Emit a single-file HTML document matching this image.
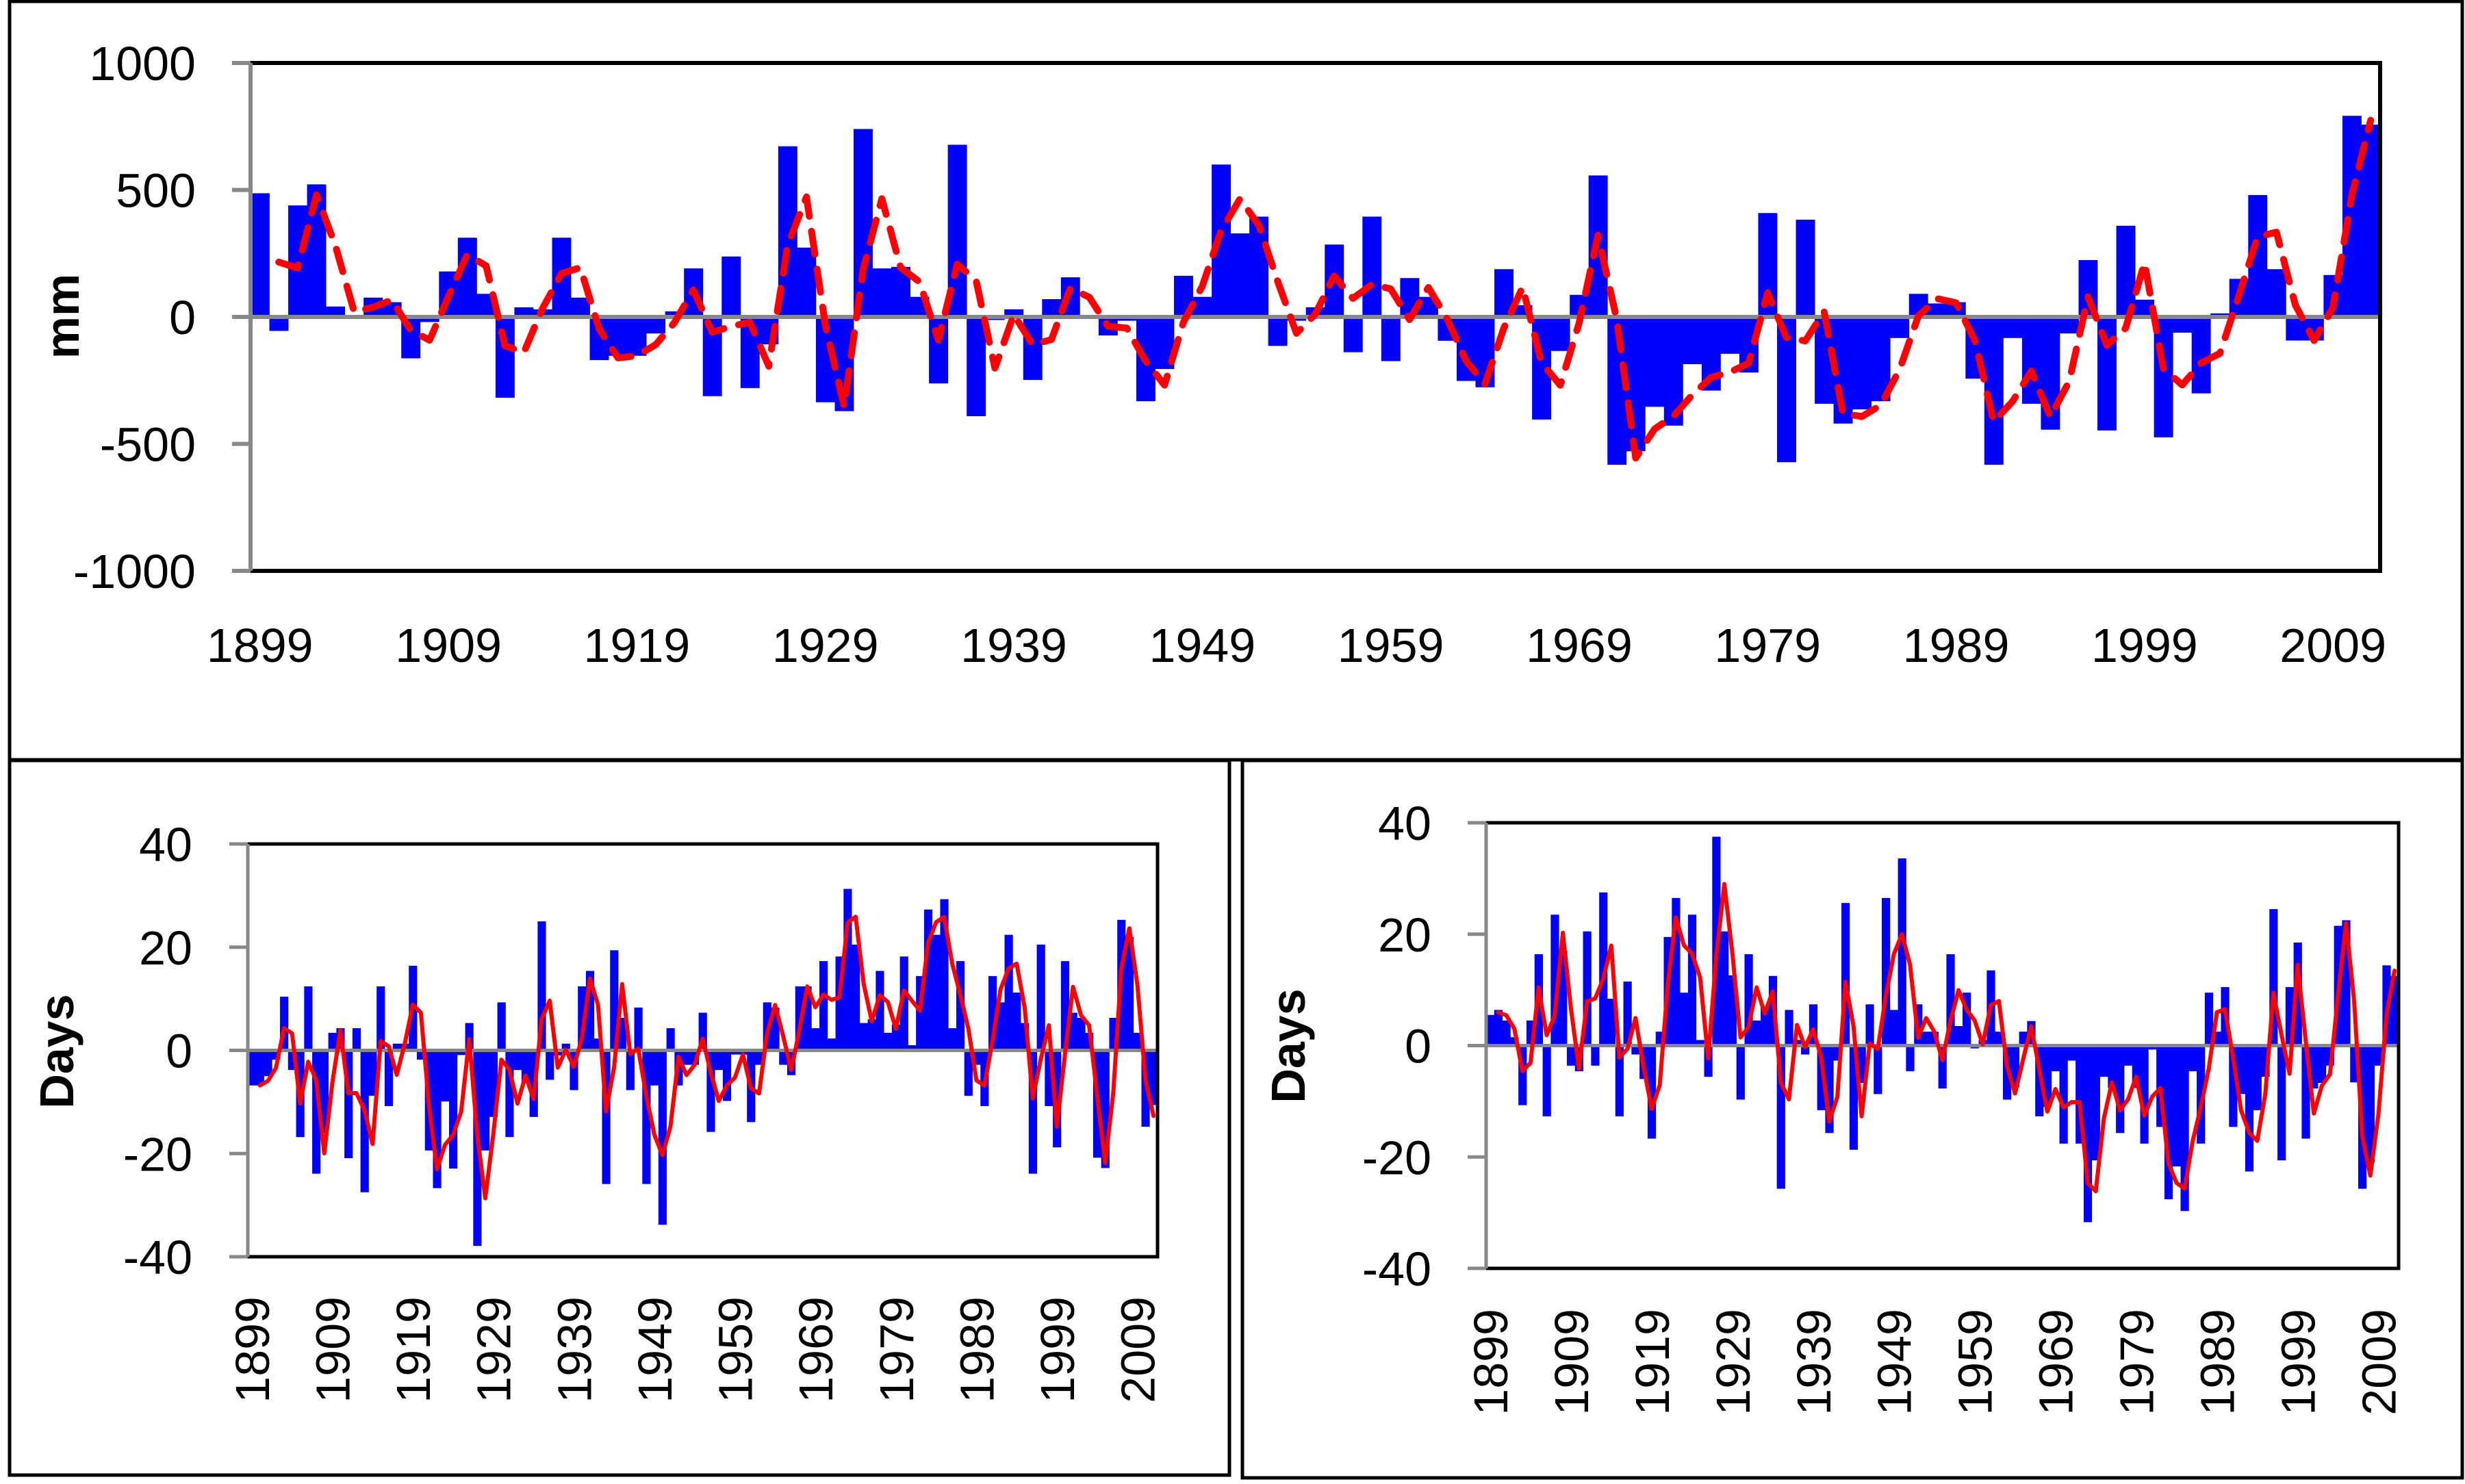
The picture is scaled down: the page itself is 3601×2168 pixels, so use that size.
<!DOCTYPE html>
<html>
<head>
<meta charset="utf-8">
<style>
html,body{margin:0;padding:0;background:#fff;}
svg{display:block;}
text{font-family:"Liberation Sans",Arial,sans-serif;fill:#000;}
</style>
</head>
<body>
<svg id="fig" width="3601" height="2168" viewBox="0 0 3601 2168" xmlns="http://www.w3.org/2000/svg">
  <rect x="0" y="0" width="3601" height="2168" fill="#fff"/>
  <g fill="none" stroke="#000" stroke-width="5">
    <rect x="14" y="2" width="3583" height="1108"/>
    <rect x="14" y="1111" width="1782" height="1044"/>
    <rect x="1815" y="1111" width="1782" height="1048"/>
  </g>
  <g id="chart-top"></g>
  <g id="chart-left"></g>
  <g id="chart-right"></g>
</svg>
<script>
const startYear = 1899;
const topTicks = [1000, 500, 0, -500, -1000];
const dayTicks = [40, 20, 0, -20, -40];
const yearLabels = [1899, 1909, 1919, 1929, 1939, 1949, 1959, 1969, 1979, 1989, 1999, 2009];
const topValues = [487,-55,439,522,41,0,76,58,-163,-20,179,312,91,-318,38,30,312,76,-170,-153,-153,-65,22,191,-312,238,-280,-108,672,273,-336,-371,740,191,197,79,-262,678,-391,-12,30,-248,70,156,0,-73,-15,-332,-205,162,79,600,329,395,-114,-15,38,285,-139,395,-174,153,79,-94,-252,-277,188,46,-404,-134,87,557,-582,-529,-354,-428,-186,-290,-145,-219,409,-572,383,-342,-420,-364,-332,-83,91,53,58,-243,-582,-83,-342,-444,-65,224,-447,359,68,-474,-62,-301,14,150,480,188,-93,-93,165,792,757];
const leftValues = [-6.8,-6.8,-5,-1.8,10.4,-3.8,-16.8,12.4,-23.9,-16,3.4,4.3,-20.9,4.3,-27.5,-8.8,12.4,-10.8,1.3,1.3,16.4,-1.8,-19.4,-26.7,-9.9,-22.9,-0.9,5.3,-37.9,-19.4,-12.9,9.3,-16.8,-3.8,-6,-12.9,25,-5.7,-1,1.3,-7.7,12.4,15.4,2.3,-25.9,19.4,6.3,-7.7,8.3,-25.9,-6.8,-33.8,4.3,-6.8,-2.8,-2.8,7.3,-15.8,-3.8,-9.8,-0.8,-0.8,-13.9,-2.8,9.3,8.3,-2.8,-4.8,12.4,12.4,4.3,17.3,2.3,18.2,31.3,20.5,5.3,6,15.4,3.4,5,18.2,1,14.4,27.3,22.4,29.3,4.3,17.3,-8.8,-2.8,-10.8,14.4,9.3,22.4,11.2,5.3,-23.9,20.5,-10.8,-18.8,17.3,7.3,6.3,3.4,-20.8,-22.8,6.3,25.3,22,3.4,-14.8,-10.6];
const rightValues = [5.5,6.4,4.5,1.5,-10.7,4.5,16.4,-12.7,23.5,17,-3.6,-4.6,20.5,-3.6,27.5,8.4,-12.7,11.5,-1.6,-6,-16.7,2.5,19.5,26.5,9.5,23.5,1,-5.6,37.5,20.5,12.6,-9.7,16.4,4.5,7,12.5,-25.7,6.4,1,-1.6,7.4,-11.6,-15.7,-2.7,25.6,-18.7,-6.7,7.4,-8.7,26.5,6.4,33.6,-4.6,7.4,2.5,2.5,-7.7,16.4,3.5,9.5,-0.5,1,13.5,2.5,-9.7,-7.5,2.5,4.4,-12.7,-11,-4.6,-17.6,-2.7,-17.6,-31.7,-20.6,-5.6,-7.6,-15.7,-3.6,-7.6,-17.6,-0.7,-14.6,-27.6,-21.7,-29.7,-4.6,-17.6,9.5,2.5,10.5,-14.6,-8.7,-22.6,-11.6,-5.6,24.5,-20.6,10.5,18.5,-16.7,-7.7,-6.7,-3.6,21.5,22.5,-6.6,-25.7,-21,-3.6,14.4,12.5];

const NS = "http://www.w3.org/2000/svg";
function mk(tag, attrs, parent) {
  const e = document.createElementNS(NS, tag);
  for (const k in attrs) e.setAttribute(k, attrs[k]);
  parent.appendChild(e);
  return e;
}

function drawChart(g, cfg) {
  const n = cfg.values.length;
  const step = (cfg.R - cfg.L) / n;
  const y = v => cfg.T + (cfg.max - v) / (cfg.max - cfg.min) * (cfg.B - cfg.T);
  const xc = i => cfg.L + step * (i + 0.5);
  // bars
  cfg.values.forEach((v, i) => {
    const y0 = y(0), y1 = y(v);
    const r = mk('rect', {x: (cfg.L + step * i).toFixed(2), y: Math.min(y0, y1).toFixed(2), width: (step + 0.4).toFixed(2), height: Math.max(0.5, Math.abs(y1 - y0)).toFixed(2), fill: '#0000FF'}, g);
    
    
  });
  // zero line
  const z = mk('line', {x1: cfg.L - cfg.tickLen, x2: cfg.R, y1: y(0), y2: y(0), stroke: '#888888', 'stroke-width': cfg.axisW}, g);
  
  
  // frame top/right/bottom
  const fr = mk('path', {d: `M${cfg.L} ${cfg.T} H${cfg.R} V${cfg.B} H${cfg.L}`, fill: 'none', stroke: '#000', 'stroke-width': cfg.frameW}, g);
  
  
  // y axis
  const ax = mk('line', {x1: cfg.L, x2: cfg.L, y1: cfg.T, y2: cfg.B, stroke: '#888888', 'stroke-width': cfg.axisW}, g);
  
  
  cfg.ticks.forEach(t => {
    const tl = mk('line', {x1: cfg.L - cfg.tickLen, x2: cfg.L, y1: y(t), y2: y(t), stroke: '#888888', 'stroke-width': cfg.axisW}, g);
    
    
    const tx = mk('text', {x: cfg.labelRight, y: y(t) + 25, 'text-anchor': 'end', 'font-size': 70}, g);
    tx.textContent = String(t);
    
    
  });
  // moving average (2-yr)
  let d = '';
  for (let i = 1; i < n; i++) {
    const m = (cfg.values[i] + cfg.values[i - 1]) / 2;
    d += (i === 1 ? 'M' : 'L') + xc(i).toFixed(2) + ' ' + y(m).toFixed(2);
  }
  const ma = mk('path', {d: d, fill: 'none', stroke: '#FF0000', 'stroke-width': cfg.lineW, 'stroke-linejoin': 'round', 'stroke-linecap': 'round'}, g);
  if (cfg.dash) ma.setAttribute('stroke-dasharray', cfg.dash);
  
  
  // x labels
  yearLabels.forEach(yr => {
    const i = yr - startYear;
    let t;
    if (cfg.rotate) {
      const cx = xc(i) + 25, cy = cfg.xLabelY;
      t = mk('text', {x: cx, y: cy, 'text-anchor': 'end', 'font-size': 70, transform: `rotate(-90 ${cx} ${cy})`}, g);
    } else {
      t = mk('text', {x: xc(i), y: cfg.xLabelY, 'text-anchor': 'middle', 'font-size': 70}, g);
    }
    t.textContent = String(yr);
    
    
  });
  // axis title
  const at = mk('text', {x: cfg.titleX, y: cfg.titleY + 25, 'text-anchor': 'middle', 'font-size': 70, 'font-weight': 'bold', transform: `rotate(-90 ${cfg.titleX} ${cfg.titleY})`}, g);
  at.textContent = cfg.title;
  
  
}

drawChart(document.getElementById('chart-top'), {values: topValues, L: 366, R: 3477, T: 92, B: 834, max: 1000, min: -1000, ticks: topTicks, labelRight: 286, tickLen: 27, axisW: 6, frameW: 6, lineW: 10, dash: '34 22', xLabelY: 967, rotate: false, title: 'mm', titleX: 90, titleY: 462});
drawChart(document.getElementById('chart-left'), {values: leftValues, L: 362, R: 1691, T: 1233, B: 1836, max: 40, min: -40, ticks: dayTicks, labelRight: 281, tickLen: 27, axisW: 5, frameW: 5, lineW: 6, dash: null, xLabelY: 1894, rotate: true, title: 'Days', titleX: 82, titleY: 1536});
drawChart(document.getElementById('chart-right'), {values: rightValues, L: 2171, R: 3504, T: 1202, B: 1853, max: 40, min: -40, ticks: dayTicks, labelRight: 2091, tickLen: 27, axisW: 5, frameW: 5, lineW: 6, dash: null, xLabelY: 1912, rotate: true, title: 'Days', titleX: 1881, titleY: 1528});
</script>
</body>
</html>
